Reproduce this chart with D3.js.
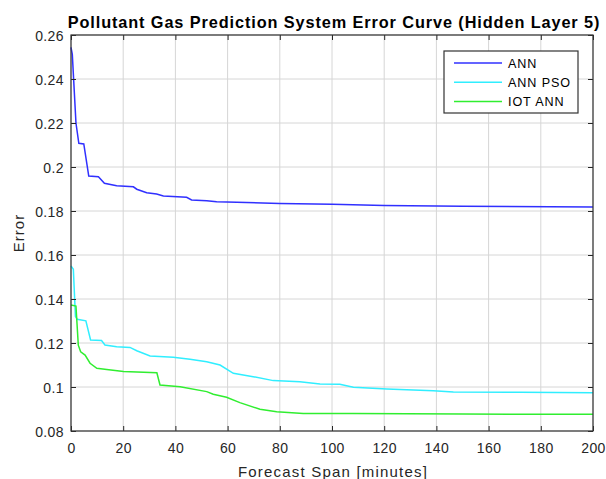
<!DOCTYPE html>
<html>
<head>
<meta charset="utf-8">
<script src="https://cdn.jsdelivr.net/npm/d3@7"></script>
<style>
  body { margin: 0; background: #fff; }
  text { font-family: "Liberation Sans", Arial, sans-serif; fill: #262626; }
</style>
</head>
<body>
<svg id="chart" width="606" height="479"></svg>
<script>
// Data (minutes, error)
var annX = [0, 0.5, 1.9, 3, 4.9, 6.8, 10.5, 12.8, 17.5, 23.9, 25.2, 29, 32.8, 35.4, 44.3, 46.2, 52, 55.8, 63.5, 80, 100, 120, 150, 200];
var annY = [0.2544, 0.2512, 0.22, 0.2108, 0.2105, 0.1959, 0.1956, 0.1926, 0.1915, 0.191, 0.1899, 0.1883, 0.1877, 0.1868, 0.1862, 0.185, 0.1847, 0.1842, 0.184, 0.1834, 0.1831, 0.1825, 0.1822, 0.1818];

var psoX = [0, 0.9, 1.7, 2.4, 5.7, 7.5, 11.7, 13, 17.5, 22.6, 25.2, 30.3, 39.2, 45.6, 52, 57.1, 62.2, 69.8, 77.5, 87.7, 95.4, 103, 108.2, 121, 138.8, 146.5, 172, 200];
var psoY = [0.155, 0.1535, 0.132, 0.1308, 0.1301, 0.1214, 0.1211, 0.1191, 0.1183, 0.118, 0.1165, 0.1141, 0.1135, 0.1126, 0.1115, 0.11, 0.1062, 0.1047, 0.1029, 0.1024, 0.1014, 0.1012, 0.0999, 0.0991, 0.0983, 0.0977, 0.0976, 0.0974];

var iotX = [0, 1.9, 2.8, 3.7, 5.4, 7.3, 9.9, 13.7, 20.1, 32.9, 34.1, 41.8, 52, 54.5, 59.6, 64.7, 72.4, 78.8, 89, 108, 150, 200];
var iotY = [0.1373, 0.1368, 0.119, 0.116, 0.1145, 0.1108, 0.1085, 0.108, 0.107, 0.1065, 0.1009, 0.1001, 0.0979, 0.0967, 0.0953, 0.0929, 0.0899, 0.0888, 0.088, 0.0879, 0.0877, 0.0876];

var seriesNames = ["ANN", "ANN PSO", "IOT ANN"];
var seriesColors = ["#3030ff", "#30eeff", "#30ee30"];
var xTicks = [0, 20, 40, 60, 80, 100, 120, 140, 160, 180, 200];
var yTicks = [0.08, 0.1, 0.12, 0.14, 0.16, 0.18, 0.2, 0.22, 0.24, 0.26];

var margin = {top: 35, right: 13, bottom: 48, left: 71};
var svg = d3.select("#chart");
var width = 606 - margin.left - margin.right;
var height = 479 - margin.top - margin.bottom;

var x = d3.scaleLinear().domain([0, 200]).range([0, width]);
var y = d3.scaleLinear().domain([0.08, 0.26]).range([height, 0]);

var g = svg.append("g").attr("transform", "translate(" + margin.left + "," + margin.top + ")");

// grid
g.append("g").selectAll("line").data(xTicks).join("line")
  .attr("x1", function(d) { return x(d); }).attr("x2", function(d) { return x(d); })
  .attr("y1", 0).attr("y2", height)
  .attr("stroke", "#d6d6d6").attr("stroke-width", 1);
g.append("g").selectAll("line").data(yTicks).join("line")
  .attr("y1", function(d) { return y(d); }).attr("y2", function(d) { return y(d); })
  .attr("x1", 0).attr("x2", width)
  .attr("stroke", "#d6d6d6").attr("stroke-width", 1);

// lines
var line = d3.line().x(function(d) { return x(d[0]); }).y(function(d) { return y(d[1]); });
var series = [d3.zip(annX, annY), d3.zip(psoX, psoY), d3.zip(iotX, iotY)];
series.forEach(function(s, i) {
  g.append("path").datum(s)
    .attr("d", line)
    .attr("fill", "none")
    .attr("stroke", seriesColors[i])
    .attr("stroke-width", 1.5);
});

// axes, ticks pointing in
var axisStyle = function(sel) {
  sel.select(".domain").remove();
  sel.selectAll(".tick line").attr("stroke", "#262626");
  sel.selectAll(".tick text").attr("font-size", "14px").attr("fill", "#262626")
    .attr("letter-spacing", "0.4px")
    .attr("font-family", "Liberation Sans, Arial, sans-serif");
};
g.append("g").attr("class", "x-axis").attr("transform", "translate(0," + height + ")")
  .call(d3.axisBottom(x).tickValues(xTicks).tickSize(-5).tickPadding(12).tickFormat(d3.format("d")))
  .call(axisStyle);
g.append("g").attr("transform", "translate(0,0)")
  .call(d3.axisTop(x).tickValues(xTicks).tickSize(-5).tickFormat(""))
  .call(axisStyle);
g.append("g").attr("class", "y-axis")
  .call(d3.axisLeft(y).tickValues(yTicks).tickSize(-5).tickPadding(7).tickFormat(function(d) { return String(+d.toFixed(2)); }))
  .call(axisStyle);
g.append("g").attr("transform", "translate(" + width + ",0)")
  .call(d3.axisRight(y).tickValues(yTicks).tickSize(-5).tickFormat(""))
  .call(axisStyle);
g.selectAll(".y-axis .tick text").attr("dy", "0.42em");

// box
g.append("rect").attr("width", width).attr("height", height)
  .attr("fill", "none").attr("stroke", "#333").attr("stroke-width", 1.2);

// title and labels
svg.append("text").attr("x", 334).attr("y", 28)
  .attr("text-anchor", "middle").attr("font-size", "16.3px").attr("font-weight", "bold")
  .attr("letter-spacing", "0.9px")
  .style("fill", "#000")
  .text("Pollutant Gas Prediction System Error Curve (Hidden Layer 5)");
svg.append("text").attr("x", 333).attr("y", 476.5)
  .attr("text-anchor", "middle").attr("font-size", "15px")
  .attr("letter-spacing", "1.2px")
  .text("Forecast Span [minutes]");
svg.append("text").attr("transform", "translate(24," + (margin.top + height / 2) + ") rotate(-90)")
  .attr("text-anchor", "middle").attr("font-size", "15px")
  .attr("letter-spacing", "1px")
  .text("Error");

// legend
var lg = svg.append("g").attr("transform", "translate(444,51)");
lg.append("rect").attr("width", 134).attr("height", 62)
  .attr("fill", "#fff").attr("stroke", "#333").attr("stroke-width", 1.2);
seriesNames.forEach(function(name, i) {
  var ly = 12 + i * 19.3;
  lg.append("line").attr("x1", 10).attr("x2", 58).attr("y1", ly).attr("y2", ly)
    .attr("stroke", seriesColors[i]).attr("stroke-width", 1.5);
  lg.append("text").attr("x", 64).attr("y", ly + 4.5).attr("font-size", "12.6px")
    .attr("letter-spacing", "0.9px")
    .style("fill", "#000").text(name);
});
</script>
</body>
</html>
